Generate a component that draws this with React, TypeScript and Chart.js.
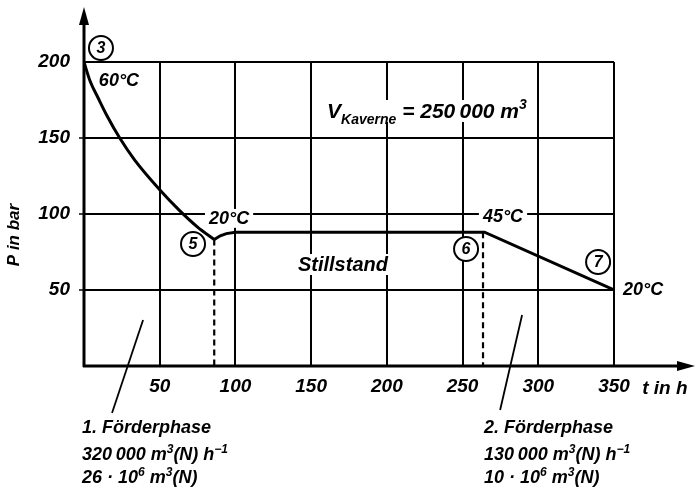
import React, { useEffect, useRef } from 'react';
import { Chart, registerables } from 'chart.js';

Chart.register(...registerables);

// ---- data ----
const phase1Time = [0, 4, 9.5, 15, 23.6, 33.5, 50, 63, 75, 86];
const phase1Pressure = [200, 187.5, 176, 165, 150, 135.5, 116, 102.4, 91.4, 83.2];
const restTime = [86, 90, 94, 100, 264.5, 350];
const restPressure = [83.2, 85.7, 87.1, 88, 88, 50];
const dashTime = [86, 263.5];
const dashTop = [83.2, 88];
const xTickStep = 50;
const yTickStep = 50;
const xMax = 350;
const yMax = 200;

const FONT = '"Liberation Sans", Arial, sans-serif';
const fnt = (size: number) => `italic bold ${size}px ${FONT}`;

type Seg = { t: string; sup?: boolean; sub?: boolean };
type Note = { t: number; p: number; segs: Seg[]; size: number; align: 'left' | 'center'; bg?: boolean };

const notes: Note[] = [
  { t: 23.1, p: 188.8, segs: [{ t: '60°C' }], size: 18, align: 'center', bg: true },
  { t: 95.8, p: 97.4, segs: [{ t: '20°C' }], size: 18, align: 'center', bg: true },
  { t: 276.7, p: 98.7, segs: [{ t: '45°C' }], size: 18, align: 'center', bg: true },
  { t: 356, p: 50.7, segs: [{ t: '20°C' }], size: 18, align: 'left' },
  { t: 171, p: 67.1, segs: [{ t: 'Stillstand' }], size: 20, align: 'center', bg: true },
  {
    t: 160.5, p: 168.1, size: 21, align: 'left', bg: true,
    segs: [{ t: 'V' }, { t: 'Kaverne', sub: true }, { t: ' = 250\u2009000 m' }, { t: '3', sup: true }],
  },
  { t: 368.6, p: -13.8, segs: [{ t: 't in h' }], size: 19, align: 'left' },
  { t: -1.3, p: -39.5, segs: [{ t: '1. Förderphase' }], size: 18, align: 'left' },
  { t: -1.3, p: -57.7, segs: [{ t: '320\u2009000 m' }, { t: '3', sup: true }, { t: '(N) h' }, { t: '\u22121', sup: true }], size: 18, align: 'left' },
  { t: -1.3, p: -73, segs: [{ t: '26 · 10' }, { t: '6', sup: true }, { t: ' m' }, { t: '3', sup: true }, { t: '(N)' }], size: 18, align: 'left' },
  { t: 264.2, p: -39.5, segs: [{ t: '2. Förderphase' }], size: 18, align: 'left' },
  { t: 264.2, p: -57.7, segs: [{ t: '130\u2009000 m' }, { t: '3', sup: true }, { t: '(N) h' }, { t: '\u22121', sup: true }], size: 18, align: 'left' },
  { t: 264.2, p: -73, segs: [{ t: '10 · 10' }, { t: '6', sup: true }, { t: ' m' }, { t: '3', sup: true }, { t: '(N)' }], size: 18, align: 'left' },
];

const circles = [
  { t: 11.2, p: 209.2, n: '3' },
  { t: 72, p: 80.3, n: '5' },
  { t: 252.3, p: 77, n: '6' },
  { t: 339.5, p: 68.4, n: '7' },
];

const leaders = [
  { t1: 39, p1: 30.3, t2: 18.5, p2: -30.9 },
  { t1: 289.3, p1: 33.6, t2: 274.8, p2: -28.9 },
];

function layoutNote(ctx: CanvasRenderingContext2D, n: Note, X: number) {
  const items = n.segs.map((s) => {
    const sz = s.sup || s.sub ? Math.round(n.size * 0.68) : n.size;
    ctx.font = fnt(sz);
    return { s, sz, w: ctx.measureText(s.t).width };
  });
  const total = items.reduce((a, b) => a + b.w, 0);
  const left = n.align === 'center' ? X - total / 2 : X;
  return { items, total, left };
}

function drawNote(ctx: CanvasRenderingContext2D, n: Note, X: number, Y: number) {
  const { items, left } = layoutNote(ctx, n, X);
  const base = Y + n.size * 0.36;
  let cx = left;
  ctx.fillStyle = '#000';
  ctx.textBaseline = 'alphabetic';
  ctx.textAlign = 'left';
  for (const it of items) {
    ctx.font = fnt(it.sz);
    let by = base;
    if (it.s.sup) by = base - n.size * 0.42;
    if (it.s.sub) by = base + n.size * 0.28;
    ctx.fillText(it.s.t, cx, by);
    cx += it.w;
  }
}

const annotPlugin = {
  id: 'annot',
  beforeDatasetsDraw(chart: any) {
    const { ctx, scales } = chart;
    const X = (v: number) => scales.x.getPixelForValue(v);
    const Y = (v: number) => scales.y.getPixelForValue(v);
    ctx.save();
    for (const n of notes) {
      if (!n.bg) continue;
      const x = X(n.t), y = Y(n.p);
      const { total, left } = layoutNote(ctx, n, x);
      ctx.fillStyle = '#fff';
      ctx.fillRect(left - 4, y - n.size * 0.5, total + 8, n.size * 1.05);
    }
    ctx.strokeStyle = '#000';
    ctx.lineWidth = 2.2;
    ctx.setLineDash([6, 4]);
    dashTime.forEach((t, i) => {
      ctx.beginPath();
      ctx.moveTo(X(t), Y(dashTop[i]));
      ctx.lineTo(X(t), Y(0));
      ctx.stroke();
    });
    ctx.setLineDash([]);
    ctx.restore();
  },
  afterDatasetsDraw(chart: any) {
    const { ctx, scales } = chart;
    const X = (v: number) => scales.x.getPixelForValue(v);
    const Y = (v: number) => scales.y.getPixelForValue(v);
    ctx.save();
    ctx.strokeStyle = '#000';
    ctx.fillStyle = '#000';
    const x0 = X(0), y0 = Y(0);
    const yTop = 7;
    const xEnd = 695;
    ctx.lineWidth = 3;
    ctx.beginPath();
    ctx.moveTo(x0, y0 + 1);
    ctx.lineTo(x0, yTop + 10);
    ctx.moveTo(x0 - 1, y0);
    ctx.lineTo(xEnd - 10, y0);
    ctx.stroke();
    ctx.beginPath();
    ctx.moveTo(x0, yTop);
    ctx.lineTo(x0 - 5, yTop + 18);
    ctx.lineTo(x0 + 5, yTop + 18);
    ctx.closePath();
    ctx.fill();
    ctx.beginPath();
    ctx.moveTo(xEnd, y0);
    ctx.lineTo(xEnd - 18, y0 - 5);
    ctx.lineTo(xEnd - 18, y0 + 5);
    ctx.closePath();
    ctx.fill();
    ctx.lineWidth = 1.8;
    for (const l of leaders) {
      ctx.beginPath();
      ctx.moveTo(X(l.t1), Y(l.p1));
      ctx.lineTo(X(l.t2), Y(l.p2));
      ctx.stroke();
    }
    for (const c of circles) {
      const cx = X(c.t), cy = Y(c.p);
      ctx.beginPath();
      ctx.arc(cx, cy, 12, 0, Math.PI * 2);
      ctx.fillStyle = '#fff';
      ctx.fill();
      ctx.lineWidth = 2;
      ctx.stroke();
      ctx.fillStyle = '#000';
      ctx.font = fnt(16);
      ctx.textAlign = 'center';
      ctx.textBaseline = 'middle';
      ctx.fillText(c.n, cx, cy + 1);
    }
    for (const n of notes) drawNote(ctx, n, X(n.t), Y(n.p));
    ctx.save();
    ctx.translate(14, 235);
    ctx.rotate(-Math.PI / 2);
    ctx.font = fnt(17);
    ctx.fillStyle = '#000';
    ctx.textAlign = 'center';
    ctx.textBaseline = 'middle';
    ctx.fillText('P in bar', 0, 0);
    ctx.restore();
    ctx.restore();
  },
};

export default function App() {
  const ref = useRef<HTMLCanvasElement | null>(null);
  useEffect(() => {
    document.body.style.margin = '0';
    const canvas = ref.current;
    if (!canvas) return;
    const tickFont = { family: FONT, size: 19, style: 'italic' as const, weight: 'bold' as const };
    const chart = new Chart(canvas, {
      type: 'line',
      data: {
        datasets: [
          {
            data: phase1Time.map((t, i) => ({ x: t, y: phase1Pressure[i] })),
            borderColor: '#000',
            borderWidth: 3,
            pointRadius: 0,
            cubicInterpolationMode: 'monotone',
            fill: false,
          },
          {
            data: restTime.map((t, i) => ({ x: t, y: restPressure[i] })),
            borderColor: '#000',
            borderWidth: 3,
            pointRadius: 0,
            tension: 0,
            fill: false,
          },
        ],
      },
      options: {
        animation: false,
        responsive: false,
        devicePixelRatio: 1,
        layout: { padding: { left: 0, right: 82, top: 62, bottom: 88 } },
        plugins: { legend: { display: false }, tooltip: { enabled: false } },
        scales: {
          x: {
            type: 'linear',
            min: 0,
            max: xMax,
            ticks: {
              stepSize: xTickStep,
              autoSkip: false,
              maxRotation: 0,
              color: '#000',
              font: tickFont,
              padding: 9,
              callback: (v: any) => (Number(v) === 0 ? '' : String(v)),
            },
            grid: { color: '#000', lineWidth: 2, drawTicks: false },
            border: { display: false },
            afterFit: (s: any) => { s.height = 40; },
          },
          y: {
            type: 'linear',
            min: 0,
            max: yMax,
            ticks: {
              stepSize: yTickStep,
              color: '#000',
              font: tickFont,
              padding: 9,
              callback: (v: any) => (Number(v) === 0 ? '' : String(v)),
            },
            grid: {
              color: '#000',
              lineWidth: 2,
              drawTicks: true,
              tickLength: 5,
              tickWidth: 1.5,
              tickColor: (c: any) => (c.tick && (c.tick.value === 0 || c.tick.value === 200) ? 'rgba(0,0,0,0)' : '#000'),
            },
            border: { display: false },
            afterFit: (s: any) => { s.width = 84; },
          },
        },
      } as any,
      plugins: [annotPlugin],
    });
    return () => chart.destroy();
  }, []);
  return (
    <div style={{ width: 696, height: 494 }}>
      <canvas ref={ref} width={696} height={494} style={{ width: 696, height: 494, display: 'block' }} />
    </div>
  );
}
